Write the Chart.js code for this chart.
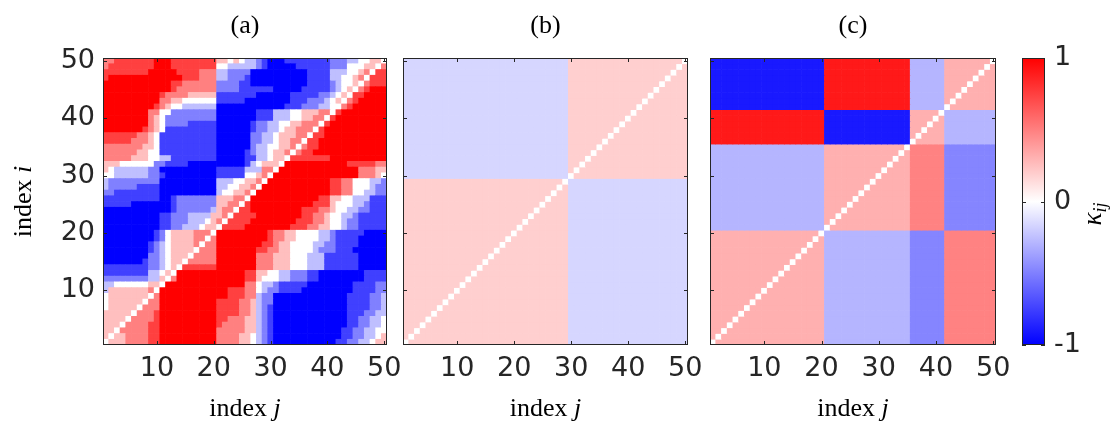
<!DOCTYPE html>
<html>
<head>
<meta charset="utf-8">
<script src="https://cdn.jsdelivr.net/npm/chart.js@4.4.0/dist/chart.umd.min.js"></script>
<style>
  html, body { margin: 0; padding: 0; background: #fff; }
  #wrap { position: relative; width: 1116px; height: 426px; }
  #wrap canvas { position: absolute; left: 0; top: 0; }
</style>
</head>
<body>
<div id="wrap">
  <canvas id="pa" width="1116" height="426"></canvas>
  <canvas id="pb" width="1116" height="426"></canvas>
  <canvas id="pc" width="1116" height="426"></canvas>
  <canvas id="cb" width="1116" height="426"></canvas>
</div>
<script>
const N = 50;
const tickVals = [10, 20, 30, 40, 50];
const barTicks = [-1, 0, 1];
const titles = ['(a)', '(b)', '(c)'];
const diagValue = 0;

// panel (a): one string per row, top row (i = 50) first, column j = 1..50
// digit d stands for kappa = (d - 4) / 4
const rowsA = [
  '6677777778' + '8877777777' + '5545433210' + '0011111111' + '2223344554',
  '6777777778' + '8877777777' + '4433333210' + '0000111111' + '2224445546',
  '7777777788' + '8887777666' + '3322220000' + '0000001111' + '3334456477',
  '7888888888' + '8888777666' + '3322210000' + '0000001111' + '3344564777',
  '8888888888' + '8877666666' + '2222110000' + '0000001111' + '2344546777',
  '8888888888' + '8876666666' + '2222111111' + '0000011111' + '2345467888',
  '8888888888' + '7666655555' + '1111111000' + '0001111122' + '3454778888',
  '8888888888' + '6655444444' + '1111100000' + '0001112223' + '4546788888',
  '8888888887' + '6544333333' + '0000000000' + '0011122233' + '4467888888',
  '8888888866' + '4422222222' + '0000000111' + '3334455566' + '4788888888',
  '8888888865' + '4222222222' + '0000000111' + '3334455664' + '7888888888',
  '8888888865' + '4222211111' + '0000001223' + '3445566647' + '8888888888',
  '8888888765' + '4111111111' + '0000001223' + '3455666478' + '8888888888',
  '7777776654' + '1111111111' + '0000002233' + '4555664778' + '8888888888',
  '7777766654' + '1111111111' + '0000002233' + '4556647788' + '8888888888',
  '6666666554' + '1111111111' + '0000002334' + '4556467788' + '8888888888',
  '6666665544' + '1111111111' + '0000012334' + '5564677888' + '8888888888',
  '6666655544' + '3311111111' + '0000011334' + '5547777777' + '8888888888',
  '5554444442' + '2111100000' + '0000013455' + '5488888888' + '8887777766',
  '5433333322' + '0000000000' + '1111133366' + '4888888888' + '8888866655',
  '4433333322' + '1000000000' + '1111144564' + '8888888888' + '8888866654',
  '3222222222' + '0000000000' + '3334455648' + '8888888888' + '7766444332',
  '3222221111' + '0000000000' + '3344556488' + '8888888888' + '7766444322',
  '2211111111' + '0000000000' + '3445564888' + '8888888888' + '7766443322',
  '1111111111' + '0012222222' + '5556648888' + '8888888877' + '5544333111',
  '1111100000' + '0012222222' + '5566478888' + '8888888777' + '5444332111',
  '0000000000' + '0012222223' + '5664778888' + '8888877766' + '5443322111',
  '0000000000' + '1122233335' + '5647777888' + '8888877665' + '4433211111',
  '0000000000' + '1122233345' + '6477778888' + '8888777665' + '4432211111',
  '0000000000' + '1122333455' + '4777788888' + '8887776655' + '4432211111',
  '0000000001' + '2455556664' + '8888888887' + '6655444433' + '2111110000',
  '0000000001' + '2455556646' + '8888888887' + '6655444433' + '2111100000',
  '0000000012' + '3455556466' + '8888888877' + '6554444332' + '2111100000',
  '0000000012' + '3455554666' + '8888888776' + '6554444322' + '2111000000',
  '0000000022' + '3455546666' + '8888888666' + '5554443331' + '1111100000',
  '0000000122' + '3455466666' + '8888888666' + '5554443331' + '1111100000',
  '1111111122' + '3454777777' + '8888888666' + '5554443331' + '1111100000',
  '1111111133' + '4548888888' + '8888877554' + '4332221100' + '0000001111',
  '2222222233' + '5468888888' + '8888877544' + '4332221100' + '0000001111',
  '3344444455' + '4888888888' + '8888866433' + '2111110000' + '0000111122',
  '3555555564' + '8888888888' + '8877766432' + '2111100000' + '0000111122',
  '4555555546' + '8888888888' + '8877766322' + '0000000000' + '0001111223',
  '4555555466' + '8888888888' + '7777665322' + '0000000000' + '0001111223',
  '4555554666' + '8888888888' + '7777665321' + '0000000000' + '0001111223',
  '5555546667' + '8888888888' + '7777665321' + '0000000000' + '0001112233',
  '5555466667' + '8888888888' + '7766655321' + '0000000000' + '0001122334',
  '5554666677' + '8888888888' + '7666655321' + '0000000000' + '0001122334',
  '5546666677' + '8888888888' + '6666655321' + '0000000000' + '0011223344',
  '5455666677' + '8888888888' + '6666554321' + '0000000000' + '0011223345',
  '4555666677' + '8888888888' + '6666554321' + '0000000000' + '0112233455'
];

// panel (b): two groups of nodes (last index of each group) and block values
const groupsB = [29, 50];
const blockB = [
  [0.19, -0.16],
  [-0.16, 0.19]
];

// panel (c): four groups, rows = group of i, columns = group of j
const groupsC = [20, 35, 41, 50];
const blockC = [
  [0.31, -0.29, -0.48, 0.49],
  [-0.29, 0.31, 0.49, -0.48],
  [0.9, -0.9, 0.31, -0.29],
  [-0.9, 0.9, -0.29, 0.31]
];

const axisColor = '#262626';
const tickFont = { family: '"DejaVu Sans"', size: 27 };
const serif = '"Liberation Serif"';

function colorOf(v) {
  const t = Math.round(255 * (1 - Math.min(1, Math.abs(v))));
  return v >= 0 ? `rgb(255,${t},${t})` : `rgb(${t},${t},255)`;
}

function cellsFromRows(rows) {
  const out = [];
  rows.forEach((row, r) => {
    const i = N - r;
    for (let j = 1; j <= N; j++) {
      const v = i === j ? diagValue : (Number(row[j - 1]) - 4) / 4;
      out.push({ x: j, y: [i - 0.5, i + 0.5], v });
    }
  });
  return out;
}

function cellsFromBlocks(groups, block) {
  const g = k => groups.findIndex(e => k <= e);
  const out = [];
  for (let i = 1; i <= N; i++) {
    for (let j = 1; j <= N; j++) {
      const v = i === j ? diagValue : block[g(i)][g(j)];
      out.push({ x: j, y: [i - 0.5, i + 0.5], v });
    }
  }
  return out;
}

// box with inward tick marks, like the original figure
const framePlugin = {
  id: 'frame',
  afterDatasetsDraw(chart, args, opts) {
    const { ctx, chartArea: a, scales } = chart;
    const L = 4;
    ctx.save();
    ctx.strokeStyle = axisColor;
    ctx.lineWidth = 1;
    ctx.beginPath();
    if (opts.xTicks) {
      scales.x.ticks.forEach(t => {
        const px = Math.round(scales.x.getPixelForValue(t.value)) + 0.5;
        ctx.moveTo(px, a.bottom); ctx.lineTo(px, a.bottom - L);
        ctx.moveTo(px, a.top); ctx.lineTo(px, a.top + L);
      });
    }
    scales.y.ticks.forEach(t => {
      const py = Math.round(scales.y.getPixelForValue(t.value)) + 0.5;
      ctx.moveTo(a.left, py); ctx.lineTo(a.left + L, py);
      ctx.moveTo(a.right, py); ctx.lineTo(a.right - L, py);
    });
    ctx.stroke();
    ctx.strokeRect(Math.round(a.left) + 0.5, Math.round(a.top) + 0.5,
      Math.round(a.width) - 1, Math.round(a.height) - 1);
    ctx.restore();
  }
};

function drawParts(ctx, parts, x, y, align) {
  let w = 0;
  parts.forEach(p => { ctx.font = p.font; w += ctx.measureText(p.text).width; });
  let cx = align === 'center' ? x - w / 2 : x;
  ctx.textAlign = 'left';
  parts.forEach(p => {
    ctx.font = p.font;
    ctx.fillText(p.text, cx, y + (p.dy || 0));
    cx += ctx.measureText(p.text).width;
  });
}

const textPlugin = {
  id: 'texts',
  afterDraw(chart, args, opts) {
    const { ctx, chartArea: a } = chart;
    const cx = (a.left + a.right) / 2;
    ctx.save();
    ctx.fillStyle = '#000';
    ctx.textBaseline = 'alphabetic';
    if (opts.title) {
      drawParts(ctx, [{ text: opts.title, font: `26px ${serif}` }], cx, 33, 'center');
    }
    if (opts.xTitle) {
      drawParts(ctx, [
        { text: 'index ', font: `26px ${serif}` },
        { text: 'j', font: `italic 26px ${serif}` }
      ], cx, 416, 'center');
    }
    if (opts.yTitle) {
      ctx.translate(31, (a.top + a.bottom) / 2);
      ctx.rotate(-Math.PI / 2);
      drawParts(ctx, [
        { text: 'index ', font: `26px ${serif}` },
        { text: 'i', font: `italic 26px ${serif}` }
      ], 0, 0, 'center');
    }
    if (opts.barTitle) {
      ctx.translate(1101, 214);
      ctx.rotate(-Math.PI / 2);
      drawParts(ctx, [
        { text: 'κ', font: `italic 27px ${serif}` },
        { text: 'ij', font: `italic 18px ${serif}`, dy: 5 }
      ], 0, 0, 'center');
    }
    ctx.restore();
  }
};

function heatmap(id, cells, left, right, title, showY) {
  const yWidth = showY ? 60 : 0;
  return new Chart(document.getElementById(id), {
    type: 'bar',
    data: {
      datasets: [{
        data: cells,
        backgroundColor: cells.map(c => colorOf(c.v)),
        borderWidth: 0,
        barPercentage: 1,
        categoryPercentage: 1
      }]
    },
    options: {
      responsive: false,
      animation: false,
      events: [],
      layout: { padding: { left: left - yWidth, right: 1116 - right, top: 58, bottom: 0 } },
      plugins: {
        legend: { display: false },
        tooltip: { enabled: false },
        frame: { xTicks: true },
        texts: { title, xTitle: true, yTitle: showY }
      },
      scales: {
        x: {
          type: 'linear', min: 0.5, max: 50.5, offset: false,
          grid: { display: false, drawTicks: false, offset: false },
          border: { display: false },
          afterBuildTicks: s => { s.ticks = tickVals.map(v => ({ value: v })); },
          afterFit: s => { s.height = 426 - 345; },
          ticks: { font: tickFont, color: axisColor, padding: 8, maxRotation: 0 }
        },
        y: {
          type: 'linear', min: 0.5, max: 50.5,
          grid: { display: false, drawTicks: false },
          border: { display: false },
          afterBuildTicks: s => { s.ticks = tickVals.map(v => ({ value: v })); },
          afterFit: s => { s.width = yWidth; },
          ticks: { display: showY, font: tickFont, color: axisColor, padding: 8 }
        }
      }
    },
    plugins: [framePlugin, textPlugin]
  });
}

heatmap('pa', cellsFromRows(rowsA), 103, 387, titles[0], true);
heatmap('pb', cellsFromBlocks(groupsB, blockB), 403, 688, titles[1], false);
heatmap('pc', cellsFromBlocks(groupsC, blockC), 710, 996, titles[2], false);

// colour bar
new Chart(document.getElementById('cb'), {
  type: 'bar',
  data: {
    labels: [''],
    datasets: [{
      data: [[barTicks[0], barTicks[barTicks.length - 1]]],
      backgroundColor: c => {
        const area = c.chart.chartArea;
        if (!area) return '#fff';
        const g = c.chart.ctx.createLinearGradient(0, area.bottom, 0, area.top);
        g.addColorStop(0, 'rgb(0,0,255)');
        g.addColorStop(0.5, 'rgb(255,255,255)');
        g.addColorStop(1, 'rgb(255,0,0)');
        return g;
      },
      borderWidth: 0,
      barPercentage: 1,
      categoryPercentage: 1
    }]
  },
  options: {
    responsive: false,
    animation: false,
    events: [],
    layout: { padding: { left: 1022, right: 1116 - 1045 - 44, top: 58, bottom: 426 - 345 } },
    plugins: {
      legend: { display: false },
      tooltip: { enabled: false },
      frame: { xTicks: false },
      texts: { barTitle: true }
    },
    scales: {
      x: { display: false, grid: { display: false } },
      y: {
        position: 'right', min: -1, max: 1,
        grid: { display: false, drawTicks: false },
        border: { display: false },
        afterBuildTicks: s => { s.ticks = barTicks.map(v => ({ value: v })); },
        afterFit: s => { s.width = 44; },
        ticks: { font: tickFont, color: axisColor, padding: 9, callback: v => String(v) }
      }
    }
  },
  plugins: [framePlugin, textPlugin]
});
</script>
</body>
</html>
